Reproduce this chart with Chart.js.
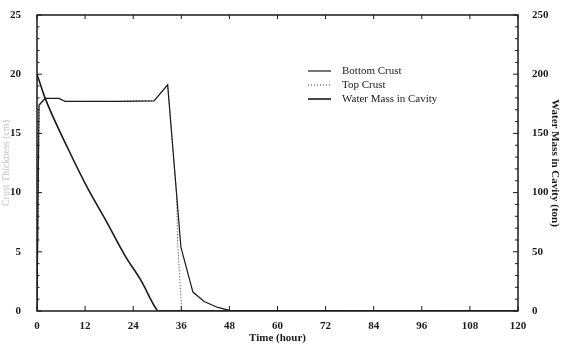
<!DOCTYPE html>
<html>
<head>
<meta charset="utf-8">
<script src="https://cdn.jsdelivr.net/npm/chart.js@4"></script>
<style>
  html, body { margin: 0; padding: 0; background: #fff; }
  #wrap { position: relative; width: 561px; height: 345px; }
</style>
</head>
<body>
<div id="wrap"><canvas id="chart" width="561" height="345"></canvas></div>
<script>
// values
const hoursBottom = [0, 0.5, 2, 5.5, 7, 20, 29.2, 32.6, 35.9, 38.9, 41.7, 45.1, 48, 120];
const bottomCrust = [0, 17.4, 17.95, 17.95, 17.7, 17.7, 17.75, 19.1, 5.4, 1.6, 0.8, 0.3, 0.05, 0];
const hoursTop = [0, 0.5, 2, 5.5, 7, 20, 29.2, 32.6, 34.8, 35.1, 36.1, 120];
const topCrust = [0, 17.2, 17.95, 17.95, 17.7, 17.7, 17.75, 19.1, 10, 5.7, 0, 0];
const hoursWater = [0, 2, 7.9, 12.9, 17.1, 22.1, 25.9, 29.6, 30.2, 120];
const waterMass = [200, 180, 136, 102, 77, 46, 26, 2.5, 0, 0];

const xTicks = [0, 12, 24, 36, 48, 60, 72, 84, 96, 108, 120];
const leftTicks = [0, 5, 10, 15, 20, 25];
const rightTicks = [0, 50, 100, 150, 200, 250];

const ink = '#1a1a1a';
const font = { family: '"Liberation Serif", "DejaVu Serif", serif', size: 11, weight: 'bold' };

function pts(xs, ys) {
  return xs.map((x, i) => ({ x: x, y: ys[i] }));
}

// inward tick marks, frame and legend, like the original plot
const frame = {
  id: 'frame',
  afterDraw(chart) {
    const ctx = chart.ctx;
    const a = chart.chartArea;
    ctx.save();
    ctx.strokeStyle = ink;
    ctx.lineWidth = 1.5;
    ctx.strokeRect(a.left, a.top, a.right - a.left, a.bottom - a.top);
    ctx.lineWidth = 1;
    const sx = chart.scales.x, yl = chart.scales.y, yr = chart.scales.y2;
    ctx.beginPath();
    sx.ticks.forEach(t => {
      const p = sx.getPixelForValue(t.value);
      ctx.moveTo(p, a.bottom); ctx.lineTo(p, a.bottom - 5);
      ctx.moveTo(p, a.top); ctx.lineTo(p, a.top + 4);
    });
    yl.ticks.forEach(t => {
      const p = yl.getPixelForValue(t.value);
      const len = t.value % 5 === 0 ? 5 : 2.5;
      ctx.moveTo(a.left, p); ctx.lineTo(a.left + len, p);
    });
    yr.ticks.forEach(t => {
      const p = yr.getPixelForValue(t.value);
      const len = t.value % 50 === 0 ? 5 : 3;
      ctx.moveTo(a.right, p); ctx.lineTo(a.right - len, p);
    });
    ctx.stroke();

    // legend
    ctx.font = '11px "Liberation Serif", serif';
    ctx.fillStyle = ink;
    ctx.textBaseline = 'middle';
    chart.data.datasets.forEach((ds, i) => {
      const y = 71 + i * 14;
      ctx.beginPath();
      ctx.setLineDash(ds.borderDash || []);
      ctx.lineWidth = ds.borderWidth;
      ctx.strokeStyle = ds.borderColor;
      ctx.moveTo(308, y); ctx.lineTo(331, y);
      ctx.stroke();
      ctx.setLineDash([]);
      ctx.fillText(ds.label, 342, y);
    });
    ctx.restore();
  }
};

new Chart(document.getElementById('chart'), {
  type: 'line',
  data: {
    datasets: [
      {
        label: 'Bottom Crust',
        data: pts(hoursBottom, bottomCrust),
        yAxisID: 'y',
        borderColor: ink,
        borderWidth: 1.2,
        pointRadius: 0,
        tension: 0
      },
      {
        label: 'Top Crust',
        data: pts(hoursTop, topCrust),
        yAxisID: 'y',
        borderColor: '#333',
        borderWidth: 1,
        borderDash: [1, 2],
        pointRadius: 0,
        tension: 0
      },
      {
        label: 'Water Mass in Cavity',
        data: pts(hoursWater, waterMass),
        yAxisID: 'y2',
        borderColor: ink,
        borderWidth: 1.6,
        pointRadius: 0,
        tension: 0.2,
        cubicInterpolationMode: 'monotone'
      }
    ]
  },
  options: {
    responsive: false,
    animation: false,
    events: [],
    layout: { padding: { top: 15, left: 0, right: 0, bottom: 0 } },
    plugins: { legend: { display: false }, tooltip: { enabled: false } },
    scales: {
      x: {
        type: 'linear',
        min: 0, max: 120,
        afterBuildTicks: s => { s.ticks = xTicks.map(v => ({ value: v })); },
        afterFit: s => { s.height = 34; },
        grid: { display: false },
        border: { display: false },
        ticks: { color: ink, font: font, padding: 1, maxRotation: 0, autoSkip: false },
        title: { display: true, text: 'Time (hour)', color: ink, font: font, padding: { top: 0, bottom: 0 } }
      },
      y: {
        position: 'left',
        min: 0, max: 25,
        afterBuildTicks: s => {
          const t = [];
          for (let v = 0; v <= 25; v++) t.push({ value: v });
          s.ticks = t;
        },
        afterFit: s => { s.width = 37; },
        grid: { display: false },
        border: { display: false },
        ticks: {
          color: ink, font: font, padding: 8, autoSkip: false,
          callback: v => leftTicks.includes(v) ? String(v) : ''
        },
        title: { display: true, text: 'Crust Thickness (cm)', color: '#c4c4c4', font: { family: font.family, size: 10 }, padding: 0 }
      },
      y2: {
        position: 'right',
        min: 0, max: 250,
        afterBuildTicks: s => {
          const t = [];
          for (let v = 0; v <= 250; v += 10) t.push({ value: v });
          s.ticks = t;
        },
        afterFit: s => { s.width = 43; },
        grid: { display: false },
        border: { display: false },
        ticks: {
          color: ink, font: font, padding: 6, autoSkip: false,
          callback: v => rightTicks.includes(v) ? String(v) : ''
        },
        title: { display: true, text: 'Water Mass in Cavity (ton)', color: ink, font: font, padding: 0 }
      }
    }
  },
  plugins: [frame]
});
</script>
</body>
</html>
